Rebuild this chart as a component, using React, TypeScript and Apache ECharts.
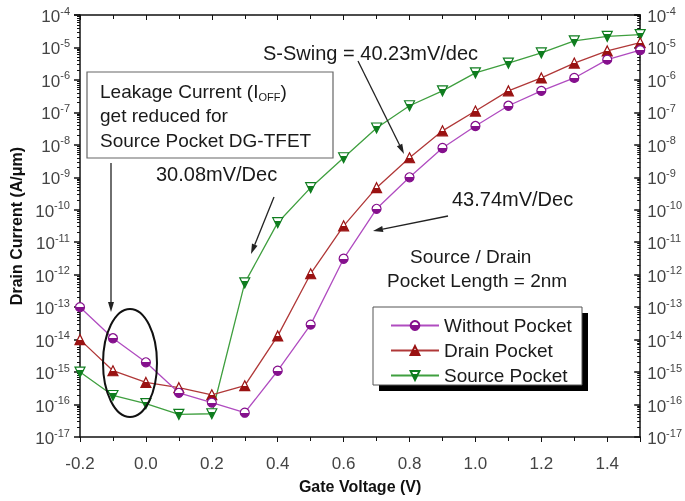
import React, { useEffect, useRef } from 'react';
import * as echarts from 'echarts';

const gateVoltage = [-0.2, -0.1, 0.0, 0.1, 0.2, 0.3, 0.4, 0.5, 0.6, 0.7, 0.8, 0.9, 1.0, 1.1, 1.2, 1.3, 1.4, 1.5];
const withoutPocket = [1e-13, 1.1e-14, 2e-15, 2.3e-16, 1.15e-16, 5.6e-17, 1.1e-15, 2.9e-14, 3.1e-12, 1.07e-10, 1e-9, 8e-9, 3.8e-8, 1.6e-7, 4.6e-7, 1.15e-6, 4.2e-6, 8.3e-6];
const drainPocket = [1e-14, 1.1e-15, 4.8e-16, 3.3e-16, 2.0e-16, 3.8e-16, 1.3e-14, 1.07e-12, 3.2e-11, 4.8e-10, 4e-9, 2.7e-8, 1.1e-7, 4.6e-7, 1.15e-6, 3.3e-6, 7.8e-6, 1.4e-5];
const sourcePocket = [1e-15, 1.9e-16, 1.07e-16, 5e-17, 5.2e-17, 5.6e-13, 4e-11, 4.8e-10, 4e-9, 3.3e-8, 1.6e-7, 4.6e-7, 1.65e-6, 3.3e-6, 6.8e-6, 1.6e-5, 2.2e-5, 2.5e-5];
const seriesNames = ['Without Pocket', 'Drain Pocket', 'Source Pocket'];

const FONT = '"Liberation Sans", Arial, sans-serif';

function half(color: string, split: number) {
  return new echarts.graphic.LinearGradient(0, 0, 0, 1, [
    { offset: 0, color: '#ffffff' },
    { offset: split, color: '#ffffff' },
    { offset: split, color },
    { offset: 1, color },
  ]);
}

function arrow(x1: number, y1: number, x2: number, y2: number) {
  const a = Math.atan2(y2 - y1, x2 - x1);
  const L = 10, W = 3;
  const bx = x2 - L * Math.cos(a), by = y2 - L * Math.sin(a);
  const px = -Math.sin(a) * W, py = Math.cos(a) * W;
  return [
    { type: 'line', z: 5, shape: { x1, y1, x2: bx, y2: by }, style: { stroke: '#222', lineWidth: 1.3 } },
    { type: 'polygon', z: 5, shape: { points: [[x2, y2], [bx + px, by + py], [bx - px, by - py]] }, style: { fill: '#222' } },
  ];
}

function txt(text: string, x: number, y: number, size = 19, align = 'left', rich?: any) {
  return {
    type: 'text', z: 6,
    style: { text, x, y, fontSize: size, fontFamily: FONT, fill: '#1a1a1a', align, verticalAlign: 'middle', rich },
  };
}

const App = () => {
  const ref = useRef<HTMLDivElement>(null);
  useEffect(() => {
    const chart = echarts.init(ref.current!, null, { renderer: 'svg' });

    const mk = (name: string, vals: number[], lineColor: string, fill: string, symbol: string, size: number, split: number) => ({
      type: 'line', name,
      data: gateVoltage.map((x, i) => [x, vals[i]]),
      symbol, symbolSize: size, showSymbol: true,
      lineStyle: { color: lineColor, width: 1.3 },
      itemStyle: { color: half(fill, split), borderColor: fill, borderWidth: 1.2 },
      emphasis: { disabled: true },
    });

    const yLabel = {
      fontFamily: FONT,
      formatter: (v: number) => `{b|10}{s|${Math.round(Math.log10(v))}}`,
      rich: {
        b: { fontSize: 17, color: '#444', lineHeight: 20, verticalAlign: 'bottom', fontFamily: FONT },
        s: { fontSize: 11, color: '#444', lineHeight: 12, verticalAlign: 'top', fontFamily: FONT },
      },
    };

    const axisLine = { show: true, onZero: false, lineStyle: { color: '#111', width: 1.5 } };

    const option: any = {
      animation: false,
      textStyle: { fontFamily: FONT },
      grid: { left: 79, right: 39, top: 15, bottom: 64 },
      xAxis: [
        {
          type: 'value', min: -0.2, max: 1.5, interval: 0.2, position: 'bottom',
          axisLine, splitLine: { show: false },
          axisTick: { show: true, length: 5, lineStyle: { color: '#111' } },
          minorTick: { show: true, splitNumber: 2, length: 4, lineStyle: { color: '#111' } },
          axisLabel: { fontSize: 17, color: '#444', margin: 18, showMaxLabel: false, fontFamily: FONT, formatter: (v: number) => v.toFixed(1) },
          name: 'Gate Voltage (V)', nameLocation: 'middle', nameGap: 41,
          nameTextStyle: { fontSize: 16, fontWeight: 'bold', color: '#111', fontFamily: FONT },
        },
        {
          type: 'value', min: -0.2, max: 1.5, interval: 0.2, position: 'top',
          axisLine, splitLine: { show: false },
          axisTick: { show: true, inside: true, length: 5, lineStyle: { color: '#111' } },
          minorTick: { show: true, splitNumber: 2, length: 4, lineStyle: { color: '#111' } },
          axisLabel: { show: false },
        },
      ],
      yAxis: [
        {
          type: 'log', logBase: 10, min: 1e-17, max: 1e-4, interval: 1, position: 'left',
          axisLine, splitLine: { show: false },
          axisTick: { show: true, length: 6, lineStyle: { color: '#111', width: 1.5 } },
          minorTick: { show: true, splitNumber: 9, length: 3, lineStyle: { color: '#111' } },
          axisLabel: { ...yLabel, margin: 10 },
          name: 'Drain Current (A/μm)', nameLocation: 'middle', nameGap: 56,
          nameTextStyle: { fontSize: 16, fontWeight: 'bold', color: '#111', fontFamily: FONT },
        },
        {
          type: 'log', logBase: 10, min: 1e-17, max: 1e-4, interval: 1, position: 'right',
          axisLine, splitLine: { show: false },
          axisTick: { show: true, inside: true, length: 6, lineStyle: { color: '#111', width: 1.5 } },
          minorTick: { show: true, splitNumber: 9, length: 3, lineStyle: { color: '#111' } },
          axisLabel: { ...yLabel, margin: 7 },
        },
      ],
      legend: {
        data: seriesNames, orient: 'vertical', left: 385, top: 311, z: 10,
        itemWidth: 48, itemHeight: 11, itemGap: 6,
        textStyle: { fontSize: 19, color: '#1a1a1a', fontFamily: FONT },
        selectedMode: false,
      },
      series: [
        mk(seriesNames[2], sourcePocket, '#3f9f3f', '#0f7d1f', 'path://M0,0L10,0L5,10Z', 10, 0.3),
        mk(seriesNames[1], drainPocket, '#b03838', '#9a1212', 'triangle', 10, 0.5),
        mk(seriesNames[0], withoutPocket, '#b04cc0', '#85108d', 'circle', 9, 0.5),
      ],
      graphic: [
        { type: 'rect', z: 3, shape: { x: 379, y: 313, width: 209, height: 78 }, style: { fill: '#000' } },
        { type: 'rect', z: 3, shape: { x: 373, y: 307, width: 209, height: 78 }, style: { fill: '#fff', stroke: '#555', lineWidth: 1 } },
        { type: 'rect', z: 4, shape: { x: 87, y: 72, width: 246, height: 86 }, style: { fill: '#fff', stroke: '#666', lineWidth: 1.2 } },
        txt('{n|Leakage Current (I}{s|OFF}{n|)}', 100, 91, 19, 'left', {
          n: { fontSize: 19, fontFamily: FONT, fill: '#1a1a1a', lineHeight: 22 },
          s: { fontSize: 11, fontFamily: FONT, fill: '#1a1a1a', lineHeight: 12, verticalAlign: 'bottom' },
        }),
        txt('get reduced for', 100, 115),
        txt('Source Pocket DG-TFET', 100, 140),
        ...arrow(111, 163, 111, 312),
        { type: 'ellipse', z: 5, shape: { cx: 130, cy: 363, rx: 27, ry: 54 }, style: { fill: 'none', stroke: '#111', lineWidth: 2 } },
        txt('30.08mV/Dec', 156, 174, 20),
        ...arrow(274, 197, 251, 254),
        txt('S-Swing = 40.23mV/dec', 263, 53, 20),
        ...arrow(358, 61, 404, 154),
        txt('43.74mV/Dec', 452, 199, 20),
        ...arrow(448, 216, 373, 231),
        txt('Source / Drain', 410, 256, 19),
        txt('Pocket Length = 2nm', 387, 280, 19),
      ],
    };
    chart.setOption(option);
    return () => chart.dispose();
  }, []);
  return <div ref={ref} style={{ position: 'fixed', left: 0, top: 0, width: 685, height: 501 }} />;
};

export default App;
